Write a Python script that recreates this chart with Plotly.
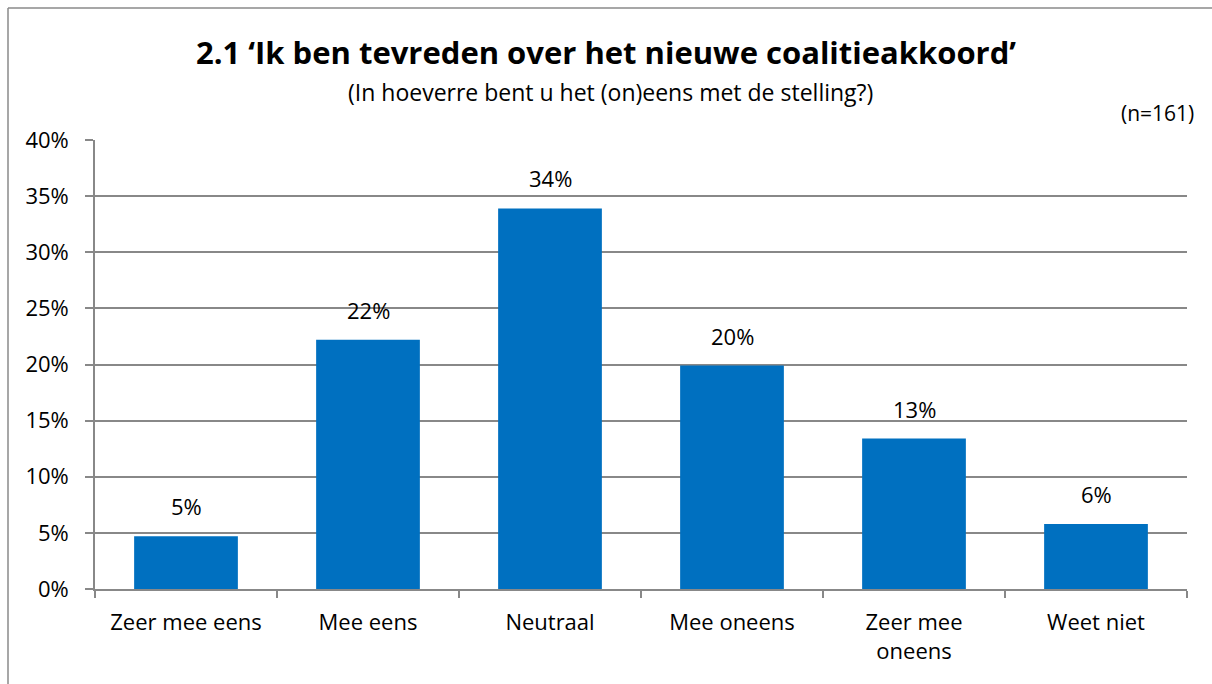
import plotly.graph_objects as go

categories = ["Zeer mee eens", "Mee eens", "Neutraal", "Mee oneens", "Zeer mee<br>oneens", "Weet niet"]
values = [0.047, 0.222, 0.339, 0.199, 0.134, 0.058]
y_ticks = [0, 0.05, 0.10, 0.15, 0.20, 0.25, 0.30, 0.35, 0.40]
y_tick_labels = ["0%", "5%", "10%", "15%", "20%", "25%", "30%", "35%", "40%"]
title_text = "<b>2.1 ‘Ik ben tevreden over het nieuwe coalitieakkoord’</b>"
subtitle_text = "(In hoeverre bent u het (on)eens met de stelling?)"
n_text = "(n=161)"

FONT = "Open Sans"
W, H = 1212, 684
L, R, T, B = 95, 25, 140, 95
pw, ph = W - L - R, H - T - B

def px_x(px):
    return (px - L) / pw

def px_y(py):
    return (H - B - py) / ph

fig = go.Figure()
fig.add_trace(go.Bar(
    x=categories, y=values,
    marker=dict(color="#0070C0", line=dict(width=0)),
    hoverinfo="skip",
))

annotations = []
for c, v in zip(categories, values):
    annotations.append(dict(
        x=c, y=v, xref="x", yref="y", text=f"{round(v*100)}%",
        showarrow=False, yanchor="bottom", yshift=13,
        font=dict(family=FONT, size=22, color="#000000"),
    ))
annotations += [
    dict(x=px_x(606), y=px_y(52), xref="paper", yref="paper", text=title_text,
         showarrow=False, xanchor="center", yanchor="middle",
         font=dict(family=FONT, size=31, color="#000000")),
    dict(x=px_x(610), y=px_y(92), xref="paper", yref="paper", text=subtitle_text,
         showarrow=False, xanchor="center", yanchor="middle",
         font=dict(family=FONT, size=23, color="#000000")),
    dict(x=px_x(1196), y=px_y(113), xref="paper", yref="paper", text=n_text,
         showarrow=False, xanchor="right", yanchor="middle",
         font=dict(family=FONT, size=21, color="#000000")),
]

border = dict(color="#8a8a8a", width=1.5)
fig.update_layout(
    width=W, height=H,
    margin=dict(l=L, r=R, t=T, b=B, pad=0),
    paper_bgcolor="white", plot_bgcolor="white",
    bargap=0.43,
    showlegend=False,
    annotations=annotations,
    shapes=[
        dict(type="line", xref="paper", yref="paper",
             x0=px_x(8), x1=px_x(8), y0=px_y(684), y1=px_y(8), line=border, layer="below"),
        dict(type="line", xref="paper", yref="paper",
             x0=px_x(8), x1=px_x(1212), y0=px_y(8), y1=px_y(8), line=border, layer="below"),
    ],
    font=dict(family=FONT, size=22, color="#000000"),
)
fig.update_yaxes(
    range=[0, 0.40], tickvals=y_ticks, ticktext=y_tick_labels,
    showgrid=True, gridcolor="#888888", gridwidth=1.7,
    showline=True, linecolor="#888888", linewidth=1.7,
    ticks="outside", ticklen=8, tickcolor="#888888", tickwidth=1.5,
    ticklabelstandoff=12, zeroline=False,
    tickfont=dict(family=FONT, size=22, color="#000000"),
)
fig.update_xaxes(
    showline=True, linecolor="#888888", linewidth=1.7,
    ticks="outside", tickson="boundaries", ticklen=7, tickcolor="#888888", tickwidth=1.5,
    ticklabelstandoff=13,
    tickfont=dict(family=FONT, size=22, color="#000000"),
)

fig.write_html("out.html", config={"displayModeBar": False},
               post_script="document.body.style.margin='0';document.body.style.padding='0';")
